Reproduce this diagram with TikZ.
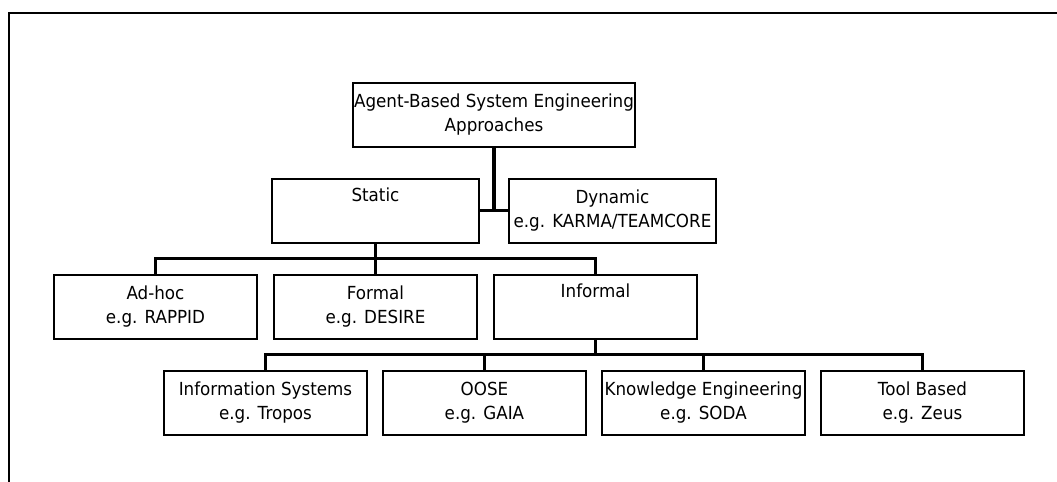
\documentclass[tikz,border=0pt]{standalone}
\usepackage{fontspec}
\setmainfont{DejaVu Sans}[FakeStretch=0.93]
\usetikzlibrary{positioning, calc, shadows}
\tikzset{
    box/.style={draw, line width=1.5pt, fill=white, minimum width=152pt, minimum height=48pt,
        align=center, inner sep=1pt, font=\fontsize{13.5}{18}\selectfont,
        drop shadow={shadow xshift=0.9pt, shadow yshift=-0.9pt, fill=black, opacity=1}}, % every box of the tree
    link/.style={line width=2.3pt}, % the lines that join the boxes
    node distance=72pt, % from one level of the tree to the next
}
\begin{document}
\begin{tikzpicture}[x=0.75pt, y=-0.75pt]
    \useasboundingbox (0,0) rectangle (1057,482);
    \draw[line width=1.5pt] (9,482) -- (9,13) -- (1057,13);

    \node[box, minimum width=208.5pt] (root) at (494,114.5) {Agent-Based System Engineering\\Approaches};
    \node[box, minimum width=155pt, below of=root, xshift=-88.9pt] (static) {Static\\\strut};
    \node[box, minimum width=155pt, node distance=177.75pt, right of=static] (dynamic) {Dynamic\\e.g. KARMA/TEAMCORE};

    \node[box, below of=static] (formal) {Formal\\e.g. DESIRE};
    \node[box, node distance=165pt, left of=formal] (adhoc) {Ad-hoc\\e.g. RAPPID};
    \node[box, node distance=165pt, right of=formal] (informal) {Informal\\\strut};

    \node[box, below of=informal, xshift=-83.25pt] (oose) {OOSE\\e.g. GAIA};
    \node[box, node distance=164.25pt, left of=oose] (infosys) {Information Systems\\e.g. Tropos};
    \node[box, node distance=164.25pt, right of=oose] (knowledge) {Knowledge Engineering\\e.g. SODA};
    \node[box, node distance=164.25pt, right of=knowledge] (tool) {Tool Based\\e.g. Zeus};

    % static / dynamic
    \draw[link] (root.south) -- (root.south |- static.east);
    \draw[link] (static.east) -- (dynamic.west);

    % kinds of static approaches
    \coordinate (fork1) at ($(static.south)!.5!(formal.north)$);
    \draw[link] (static.south) -- (formal.north);
    \draw[link] (adhoc.north) |- (fork1) -| (informal.north);

    % kinds of informal approaches
    \coordinate (fork2) at ($(informal.south)!.5!(informal.south |- oose.north)$);
    \draw[link] (informal.south) -- (fork2);
    \draw[link] (infosys.north) |- (fork2) -| (tool.north);
    \draw[link] (oose.north) -- (oose.north |- fork2);
    \draw[link] (knowledge.north) -- (knowledge.north |- fork2);
\end{tikzpicture}
\end{document}
